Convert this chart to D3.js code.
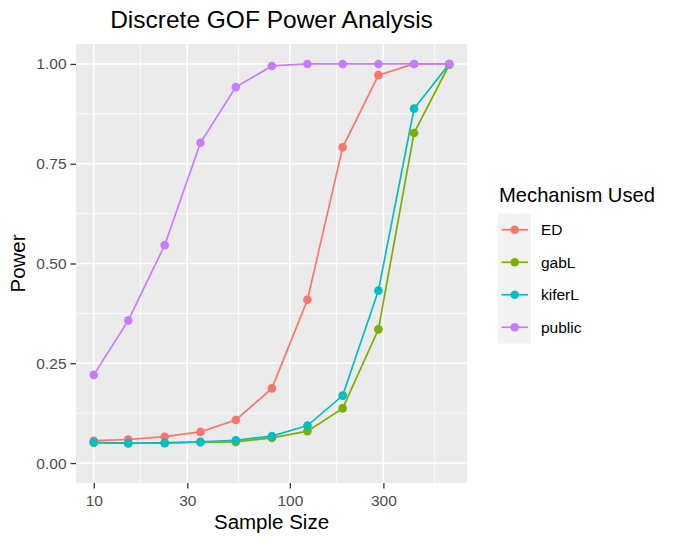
<!DOCTYPE html>
<html><head><meta charset="utf-8">
<script src="https://cdn.jsdelivr.net/npm/d3@7"></script>
<style>body{margin:0;background:#fff;font-family:"Liberation Sans",Arial,sans-serif;}</style>
</head><body><svg id="c" width="684" height="546"></svg>
<script>
const sampleSizes = [10, 15, 23, 35, 53, 81, 123, 186, 283, 430, 650];
const mechanisms = ["ED", "gabL", "kiferL", "public"];
const colors = ["#F8766D", "#7CAE00", "#00BFC4", "#C77CFF"];
const powerED     = [0.056, 0.059, 0.066, 0.078, 0.108, 0.187, 0.409, 0.791, 0.972, 1.0, 1.0];
const powerGabL   = [0.051, 0.049, 0.051, 0.0525, 0.053, 0.063, 0.080, 0.137, 0.335, 0.827, 0.998];
const powerKiferL = [0.052, 0.050, 0.050, 0.053, 0.057, 0.0675, 0.094, 0.169, 0.432, 0.888, 1.0];
const powerPublic = [0.221, 0.3575, 0.546, 0.8025, 0.942, 0.995, 1.0, 1.0, 1.0, 1.0, 1.0];
const xTicks = [10, 30, 100, 300];
const yTicks = [0, 0.25, 0.5, 0.75, 1.0];
const yLimits = [0, 1];
const title = "Discrete GOF Power Analysis";
const xTitle = "Sample Size";
const yTitle = "Power";
const legendTitle = "Mechanism Used";

const seriesVals = [powerED, powerGabL, powerKiferL, powerPublic];
const series = mechanisms.map((m, i) => ({name: m, color: colors[i],
  values: sampleSizes.map((s, j) => ({x: s, y: seriesVals[i][j]}))}));

const svg = d3.select("#c");
const panel = {left: 76, top: 44, right: 467, bottom: 483};
const FONT = "Liberation Sans, Arial, sans-serif";

// ggplot-like 5% expansion
const lx = d3.extent(sampleSizes).map(Math.log10);
const ex = (lx[1] - lx[0]) * 0.05;
const x = d3.scaleLog().domain([10 ** (lx[0] - ex), 10 ** (lx[1] + ex)]).range([panel.left, panel.right]);
const ly = d3.extent(seriesVals.flat().concat(yLimits));
const ey = (ly[1] - ly[0]) * 0.05;
const y = d3.scaleLinear().domain([ly[0] - ey, ly[1] + ey]).range([panel.bottom, panel.top]);

svg.append("rect").attr("x", panel.left).attr("y", panel.top)
  .attr("width", panel.right - panel.left).attr("height", panel.bottom - panel.top).attr("fill", "#EBEBEB");

// minor grid
const lt = xTicks.map(Math.log10).concat([3]);
const xMinor = [];
for (let i = 0; i < lt.length - 1; i++) xMinor.push(10 ** ((lt[i] + lt[i + 1]) / 2));
const yMinor = [];
for (let i = 0; i < yTicks.length - 1; i++) yMinor.push((yTicks[i] + yTicks[i + 1]) / 2);
const g = svg.append("g");
g.selectAll(".xmin").data(xMinor.filter(v => x(v) <= panel.right)).join("line")
  .attr("x1", d => x(d)).attr("x2", d => x(d)).attr("y1", panel.top).attr("y2", panel.bottom)
  .attr("stroke", "#fff").attr("stroke-width", 0.8);
g.selectAll(".ymin").data(yMinor).join("line")
  .attr("y1", d => y(d)).attr("y2", d => y(d)).attr("x1", panel.left).attr("x2", panel.right)
  .attr("stroke", "#fff").attr("stroke-width", 0.8);
g.selectAll(".xmaj").data(xTicks).join("line")
  .attr("x1", d => x(d)).attr("x2", d => x(d)).attr("y1", panel.top).attr("y2", panel.bottom)
  .attr("stroke", "#fff").attr("stroke-width", 1.6);
g.selectAll(".ymaj").data(yTicks).join("line")
  .attr("y1", d => y(d)).attr("y2", d => y(d)).attr("x1", panel.left).attr("x2", panel.right)
  .attr("stroke", "#fff").attr("stroke-width", 1.6);

// axes
const xAxis = svg.append("g").attr("transform", `translate(0,${panel.bottom})`)
  .call(d3.axisBottom(x).tickValues(xTicks).tickFormat(d3.format("d")).tickSize(5.5).tickPadding(6));
const yAxis = svg.append("g").attr("transform", `translate(${panel.left},0)`)
  .call(d3.axisLeft(y).tickValues(yTicks).tickFormat(d3.format(".2f")).tickSize(5.5).tickPadding(4));
[xAxis, yAxis].forEach(a => {
  a.select(".domain").remove();
  a.selectAll(".tick line").attr("stroke", "#333").attr("stroke-width", 1.3);
  a.selectAll(".tick text").attr("fill", "#4D4D4D").attr("font-size", 15.5).attr("font-family", FONT);
});

// lines and points
const line = d3.line().x(d => x(d.x)).y(d => y(d.y));
const sg = svg.append("g");
series.forEach(s => {
  sg.append("path").attr("d", line(s.values)).attr("fill", "none")
    .attr("stroke", s.color).attr("stroke-width", 1.7);
});
series.forEach(s => {
  sg.selectAll(null).data(s.values).join("circle")
    .attr("cx", d => x(d.x)).attr("cy", d => y(d.y)).attr("r", 4.3).attr("fill", s.color);
});

// titles
svg.append("text").attr("x", (panel.left + panel.right) / 2).attr("y", 28)
  .attr("text-anchor", "middle").attr("font-size", 24.5).attr("fill", "#000").text(title);
svg.append("text").attr("x", (panel.left + panel.right) / 2).attr("y", 529)
  .attr("text-anchor", "middle").attr("font-size", 20.5).attr("fill", "#000").text(xTitle);
svg.append("text").attr("transform", `translate(25,${(panel.top + panel.bottom) / 2}) rotate(-90)`)
  .attr("text-anchor", "middle").attr("font-size", 20.5).attr("fill", "#000").text(yTitle);

// legend
const lg = svg.append("g");
lg.append("text").attr("x", 499).attr("y", 202).attr("font-size", 20.2).attr("fill", "#000").text(legendTitle);
const keyH = 32.5, keyTop = 213.5;
mechanisms.forEach((m, i) => {
  const cy = keyTop + keyH * i + keyH / 2;
  lg.append("rect").attr("x", 498).attr("y", keyTop + keyH * i).attr("width", 33).attr("height", keyH)
    .attr("fill", "#F2F2F2");
  lg.append("line").attr("x1", 501.5).attr("x2", 528).attr("y1", cy).attr("y2", cy)
    .attr("stroke", colors[i]).attr("stroke-width", 1.7);
  lg.append("circle").attr("cx", 514.7).attr("cy", cy).attr("r", 4.3).attr("fill", colors[i]);
  lg.append("text").attr("x", 541).attr("y", cy + 5.5).attr("font-size", 15.5).attr("fill", "#000").text(m);
});
</script></body></html>
